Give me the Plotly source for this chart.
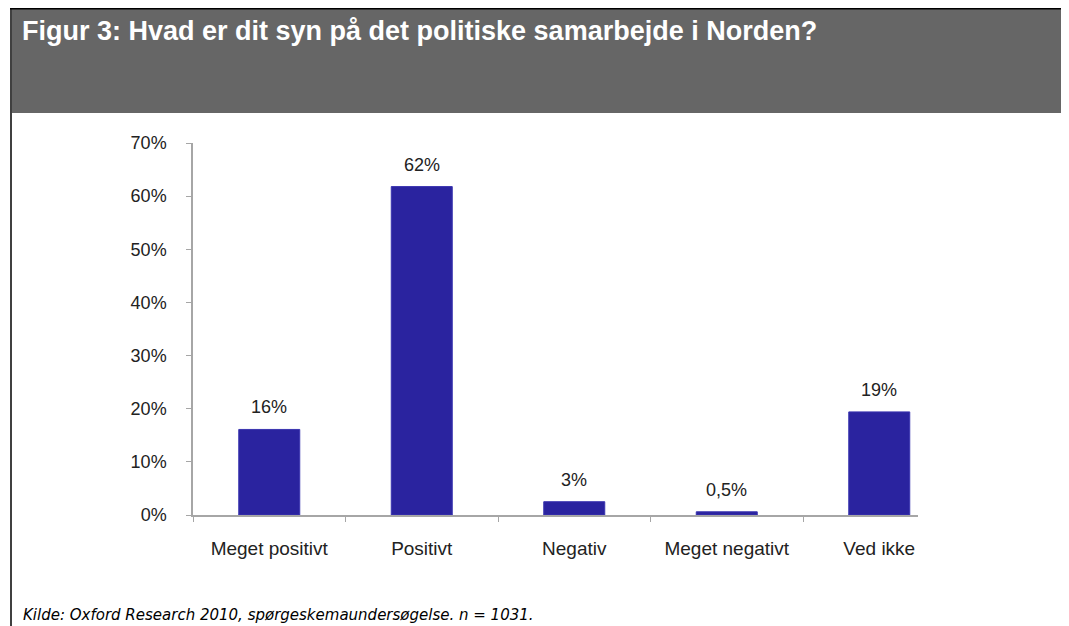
import plotly.graph_objects as go

kategorier = ["Meget positivt", "Positivt", "Negativ", "Meget negativt", "Ved ikke"]
andele = [16.1, 61.8, 2.5, 0.6, 19.4]
etiketter = ["16%", "62%", "3%", "0,5%", "19%"]
y_ticks = [0, 10, 20, 30, 40, 50, 60, 70]
y_tekst = [f"{v}%" for v in y_ticks]

titel = "Figur 3: Hvad er dit syn på det politiske samarbejde i Norden?"
kilde = "Kilde: Oxford Research 2010, spørgeskemaundersøgelse. n = 1031."

# the page body has an 8px margin, so work in page pixels and shift
OFF = 8
W, H = 1069 - OFF, 626 - OFF
L, R, T, B = 193 - OFF, 918 - OFF, 143 - OFF, 515 - OFF


def px_x(x):
    return (x - OFF - L) / (R - L)


def px_y(y):
    return (B - (y - OFF)) / (B - T)


fig = go.Figure()
fig.add_trace(go.Bar(
    x=kategorier, y=andele, width=0.4,
    marker=dict(color="#2a239f", line=dict(color="#3a34b0", width=1)),
    hoverinfo="skip",
))

for k, v, t in zip(kategorier, andele, etiketter):
    fig.add_annotation(x=k, y=v, text=t, showarrow=False, yshift=22,
                       font=dict(family="Liberation Sans, Arial", size=18, color="#222222"))

# header band and frame
fig.add_shape(type="rect", xref="paper", yref="paper",
              x0=px_x(12), x1=px_x(1063), y0=px_y(113), y1=px_y(9),
              fillcolor="#666666", line=dict(width=0), layer="below")
fig.add_shape(type="line", xref="paper", yref="paper",
              x0=px_x(10), x1=px_x(1069), y0=px_y(8.5), y1=px_y(8.5),
              line=dict(color="black", width=2))
fig.add_shape(type="line", xref="paper", yref="paper",
              x0=px_x(11), x1=px_x(11), y0=px_y(8), y1=px_y(626),
              line=dict(color="black", width=1.5))

fig.add_annotation(xref="paper", yref="paper", x=px_x(20), y=px_y(31),
                   xanchor="left", yanchor="middle", showarrow=False, text="<b>" + titel + "</b>",
                   font=dict(family="Liberation Sans, Arial", size=27, color="white"))
fig.add_annotation(xref="paper", yref="paper", x=px_x(21), y=px_y(615),
                   xanchor="left", yanchor="middle", showarrow=False, text="<i>" + kilde + "</i>",
                   font=dict(family="DejaVu Sans", size=15, color="black"))

fig.update_layout(
    width=W, height=H,
    margin=dict(l=L, r=W - R, t=T, b=H - B, pad=0),
    paper_bgcolor="white", plot_bgcolor="white",
    showlegend=False,
    font=dict(family="Liberation Sans, Arial", size=18, color="#222222"),
)
fig.update_xaxes(
    range=[-0.5, 4.254], showline=True, linecolor="#a6a6a6", linewidth=1.5,
    ticks="outside", tickson="boundaries", ticklen=5, tickcolor="#a6a6a6",
    showgrid=False, ticklabelstandoff=15, fixedrange=True,
    tickfont=dict(size=19),
)
fig.update_yaxes(
    range=[0, 70], tickmode="array", tickvals=y_ticks, ticktext=y_tekst,
    showline=True, linecolor="#a6a6a6", linewidth=1.5, ticks="outside", ticklen=5,
    tickcolor="#a6a6a6", showgrid=False, zeroline=False,
    ticklabelstandoff=16, fixedrange=True,
)

fig.write_html("out.html", config={"displayModeBar": False})
